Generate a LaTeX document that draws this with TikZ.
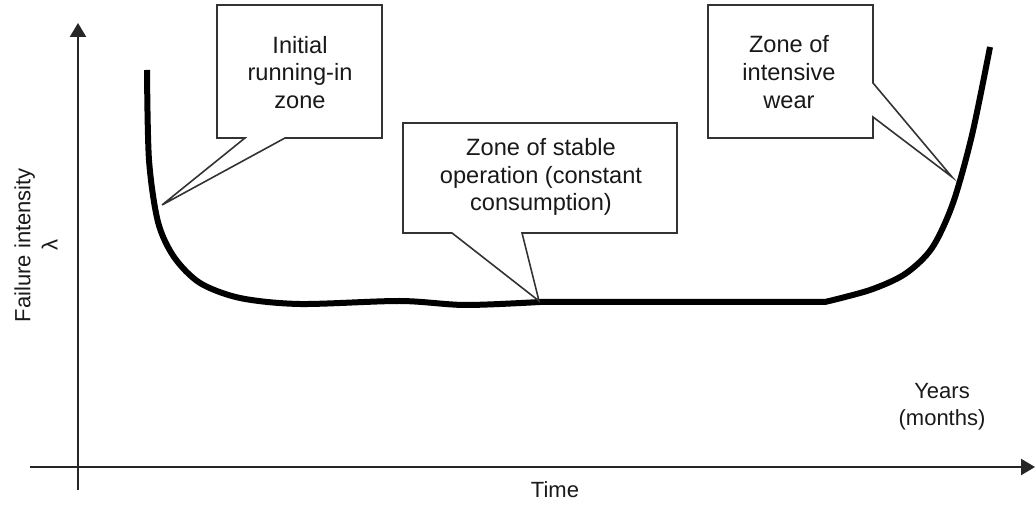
\documentclass[tikz,border=0pt]{standalone}
\usepackage{fontspec}
\setmainfont{Liberation Sans}
\usetikzlibrary{arrows.meta}
\begin{document}
\begin{tikzpicture}[x=0.5pt,y=-0.5pt,
  axis/.style={line width=1.2pt, draw=black!85, -{Triangle[length=7pt,width=8pt]}},
  curve/.style={line width=3pt, line cap=butt, line join=round},
  callout/.style={draw=black!80, line width=0.8pt, fill=white, line join=miter},
  lbl/.style={font=\fontsize{11.8}{13.8}\selectfont, align=center, inner sep=0pt, text=black!90},
  axlbl/.style={font=\fontsize{11}{13.6}\selectfont, align=center, inner sep=0pt, text=black!90}]
\useasboundingbox (0,0) rectangle (1036,506);
% axes
\coordinate (ybot) at (78,490);
\coordinate (ytop) at (78,23);
\coordinate (xl) at (30,467);
\coordinate (xr) at (1035,467);
\draw[axis] (ybot) -- (ytop);
\draw[axis] (xl) -- (xr);
% bathtub curve
\draw[curve] plot[smooth,tension=0.5] coordinates {(147,70) (149,160) (158,222) (174,257) (200,283) (240,298) (300,304) (400,301) (465,305) (540,302)}
  -- plot[smooth,tension=0.5] coordinates {(825,302) (870,290) (905,274) (932,248) (953,203) (972,135) (990,47)};
% callouts
\draw[callout] (217,5) -- (382,5) -- (382,138) -- (285,138) -- (162,205) -- (245,138) -- (217,138) -- cycle;
\draw[callout] (403,123) -- (677,123) -- (677,233) -- (522,233) -- (539,301) -- (452,233) -- (403,233) -- cycle;
\draw[callout] (708,5) -- (873,5) -- (873,83) -- (952,177) -- (873,117) -- (873,138) -- (708,138) -- cycle;
\node[lbl] (t1) at (300,72.5) {Initial\\running-in\\zone};
\node[lbl] (t2) at (541,177) {Zone of stable\\operation (constant\\consumption)};
\node[lbl] (t3) at (789,72) {Zone of\\intensive\\wear};
% axis labels
\node[axlbl] (time) at (555,490) {Time};
\node[axlbl] (years) at (942,407) {Years\\(months)};
\node[axlbl, rotate=90] (ylab) at (36,245) {Failure intensity\\λ};
\end{tikzpicture}
\end{document}
